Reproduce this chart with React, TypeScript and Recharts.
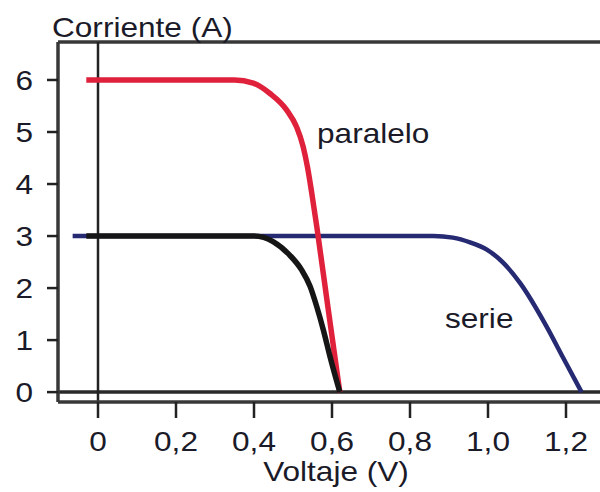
import React from "react";
import { LineChart, Line, XAxis, YAxis, ReferenceLine } from "recharts";

// ---- data ----
const xTicks = [0, 0.2, 0.4, 0.6, 0.8, 1.0, 1.2];
const xTickLabels = ["0", "0,2", "0,4", "0,6", "0,8", "1,0", "1,2"];
const yTicks = [0, 1, 2, 3, 4, 5, 6];
const yTickLabels = ["0", "1", "2", "3", "4", "5", "6"];

const paraleloV = [-0.03, 0.35, 0.398, 0.441, 0.484, 0.509, 0.526, 0.537, 0.548, 0.561, 0.59, 0.62];
const paraleloI = [6, 6, 5.94, 5.74, 5.42, 5.1, 4.72, 4.33, 3.83, 3.18, 1.61, 0];

const celdaV = [-0.03, 0.4, 0.45, 0.492, 0.522, 0.544, 0.561, 0.578, 0.595, 0.62];
const celdaI = [3, 3, 2.89, 2.63, 2.35, 2.03, 1.64, 1.19, 0.68, 0];

const serieV = [-0.065, 0.86, 0.91, 0.954, 0.997, 1.04, 1.082, 1.151, 1.192, 1.24];
const serieI = [3, 3, 2.97, 2.88, 2.74, 2.48, 2.1, 1.25, 0.67, 0];

const yTitle = "Corriente (A)";
const xTitle = "Voltaje (V)";
const labelParalelo = "paralelo";
const labelSerie = "serie";

const toRows = (v: number[], i: number[]) => v.map((x, k) => ({ v: x, i: i[k] }));
const paralelo = toRows(paraleloV, paraleloI);
const celda = toRows(celdaV, celdaI);
const serie = toRows(serieV, serieI);

// ---- layout ----
const PX_PER_V = 390;
const X_MIN = -40 / PX_PER_V;
const X_MAX = 1.36;
const Y_MIN = -0.19;
const Y_MAX = 6.73;
const LEFT = 58;
const TOP = 42;
const CHART_W = 640;
const CHART_H = 492;
const PLOT_W = (X_MAX - X_MIN) * PX_PER_V;
const RIGHT = CHART_W - LEFT - PLOT_W;

const FONT = "'Liberation Sans', Arial, Helvetica, sans-serif";
const FS = 27;
const SX = 1.17;
const TEXT = "#1a1a28";
const FRAME = "#383838";

const XTick = (props: any) => {
  const { x, payload } = props;
  const idx = xTicks.indexOf(payload.value);
  const label = idx >= 0 ? xTickLabels[idx] : String(payload.value);
  return (
    <text
      transform={`translate(${x},451) scale(${SX},1)`}
      textAnchor="middle"
      fontFamily={FONT}
      fontSize={FS}
      fill={TEXT}
    >
      {label}
    </text>
  );
};

const YTick = (props: any) => {
  const { y, payload } = props;
  const idx = yTicks.indexOf(payload.value);
  const label = idx >= 0 ? yTickLabels[idx] : String(payload.value);
  return (
    <text
      transform={`translate(33,${y + 10}) scale(${SX},1)`}
      textAnchor="end"
      fontFamily={FONT}
      fontSize={FS}
      fill={TEXT}
    >
      {label}
    </text>
  );
};

const T = ({ x, y, anchor = "start", children }: any) => (
  <text
    transform={`translate(${x},${y}) scale(${SX},1)`}
    textAnchor={anchor}
    fontFamily={FONT}
    fontSize={FS}
    fill={TEXT}
  >
    {children}
  </text>
);

export default function App() {
  return (
    <div
      style={{
        position: "absolute",
        left: 0,
        top: 0,
        width: 600,
        height: 492,
        overflow: "hidden",
        background: "#fff",
      }}
    >
      <LineChart
        width={CHART_W}
        height={CHART_H}
        margin={{ top: TOP, right: RIGHT, bottom: 0, left: 0 }}
      >
        <XAxis
          type="number"
          dataKey="v"
          domain={[X_MIN, X_MAX]}
          ticks={xTicks}
          allowDataOverflow
          height={90}
          tickSize={16}
          tickLine={{ stroke: "#222", strokeWidth: 2.5 }}
          axisLine={{ stroke: FRAME, strokeWidth: 3.5 }}
          tick={<XTick />}
          interval={0}
        />
        <YAxis
          type="number"
          dataKey="i"
          domain={[Y_MIN, Y_MAX]}
          ticks={yTicks}
          allowDataOverflow
          width={LEFT}
          tickSize={11}
          tickLine={{ stroke: "#222", strokeWidth: 2.5 }}
          axisLine={{ stroke: FRAME, strokeWidth: 3.5 }}
          tick={<YTick />}
          interval={0}
        />
        <ReferenceLine y={Y_MAX} stroke={FRAME} strokeWidth={3.5} />
        <ReferenceLine y={0} stroke="#2a2a2a" strokeWidth={3.5} />
        <ReferenceLine x={0} stroke="#222" strokeWidth={2.5} />
        <Line
          data={serie}
          dataKey="i"
          type="monotone"
          stroke="#262a72"
          strokeWidth={4.5}
          dot={false}
          activeDot={false}
          isAnimationActive={false}
        />
        <Line
          data={paralelo}
          dataKey="i"
          type="monotone"
          stroke="#e0213b"
          strokeWidth={5.5}
          dot={false}
          activeDot={false}
          isAnimationActive={false}
        />
        <Line
          data={celda}
          dataKey="i"
          type="monotone"
          stroke="#161616"
          strokeWidth={5.5}
          dot={false}
          activeDot={false}
          isAnimationActive={false}
        />
      </LineChart>
      <svg
        width={600}
        height={492}
        style={{ position: "absolute", left: 0, top: 0, pointerEvents: "none" }}
      >
        <T x={52} y={37}>{yTitle}</T>
        <T x={336} y={481} anchor="middle">{xTitle}</T>
        <T x={317} y={143}>{labelParalelo}</T>
        <T x={445} y={328}>{labelSerie}</T>
      </svg>
    </div>
  );
}
